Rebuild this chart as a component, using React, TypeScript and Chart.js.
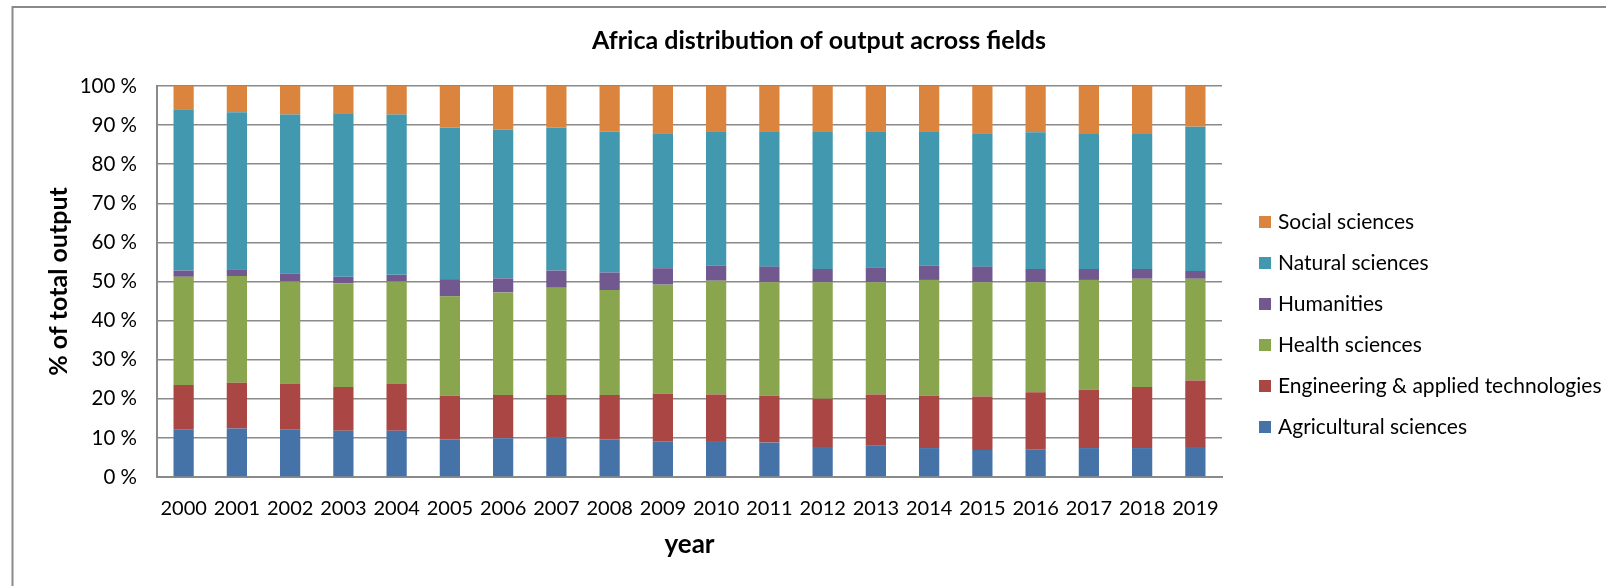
import React, { useEffect, useRef } from "react";
import { Chart, registerables } from "chart.js";

Chart.register(...registerables);

const years = ["2000", "2001", "2002", "2003", "2004", "2005", "2006", "2007", "2008", "2009", "2010", "2011", "2012", "2013", "2014", "2015", "2016", "2017", "2018", "2019"];

const agricultural = [12.2, 12.4, 12.2, 11.8, 11.8, 9.6, 9.9, 10.2, 9.6, 9.1, 9.2, 8.8, 7.7, 8.0, 7.4, 6.9, 7.1, 7.4, 7.4, 7.7];
const engineering = [11.3, 11.7, 11.7, 11.2, 12.1, 11.2, 11.1, 10.8, 11.4, 12.2, 11.9, 12.0, 12.3, 13.1, 13.4, 13.7, 14.6, 14.9, 15.6, 17.0];
const health = [27.7, 27.3, 26.1, 26.5, 26.1, 25.4, 26.2, 27.4, 26.8, 27.9, 29.1, 29.0, 29.8, 28.7, 29.6, 29.2, 28.1, 28.1, 27.7, 26.0];
const humanities = [1.6, 1.7, 2.0, 1.7, 1.7, 4.4, 3.6, 4.4, 4.5, 4.2, 3.9, 4.0, 3.4, 3.8, 3.7, 4.0, 3.4, 2.8, 2.5, 2.0];
const natural = [41.1, 40.2, 40.7, 41.8, 41.0, 38.8, 38.0, 36.6, 36.0, 34.5, 34.3, 34.6, 35.2, 34.8, 34.3, 34.1, 35.0, 34.5, 34.5, 36.9];
const social = [6.1, 6.7, 7.3, 7.0, 7.3, 10.6, 11.2, 10.6, 11.7, 12.1, 11.6, 11.6, 11.6, 11.6, 11.6, 12.1, 11.8, 12.3, 12.3, 10.4];

const seriesLabels = ["Agricultural sciences", "Engineering & applied technologies", "Health sciences", "Humanities", "Natural sciences", "Social sciences"];
const seriesColors = ["#4572A7", "#AA4643", "#89A54E", "#71588F", "#4198AF", "#DB843D"];

const yTicks = [0, 10, 20, 30, 40, 50, 60, 70, 80, 90, 100];

const chartTitle = "Africa distribution of output across fields";
const yTitle = "% of total output";
const xTitle = "year";

const FONT = "Lato, 'Open Sans', sans-serif";
const GRID = "#8a8a8a";

const overlay = {
  id: "overlay",
  afterDraw(chart: any) {
    const ctx = chart.ctx;
    ctx.save();
    // outer chart border (top and left visible)
    ctx.strokeStyle = GRID;
    ctx.lineWidth = 2;
    ctx.beginPath();
    ctx.moveTo(12.5, 600);
    ctx.lineTo(12.5, 7);
    ctx.lineTo(1620, 7);
    ctx.stroke();

    // title
    ctx.fillStyle = "#000";
    ctx.font = `bold 25px ${FONT}`;
    ctx.textAlign = "center";
    ctx.textBaseline = "middle";
    ctx.fillText(chartTitle, 819, 41);

    // legend (reversed order)
    ctx.font = `21px ${FONT}`;
    ctx.textAlign = "left";
    const ds = chart.data.datasets;
    let row = 0;
    for (let i = ds.length - 1; i >= 0; i--) {
      const y = 222 + row * 41;
      ctx.fillStyle = ds[i].backgroundColor;
      ctx.fillRect(1259, y - 6, 12, 12);
      ctx.fillStyle = "#000";
      ctx.fillText(ds[i].label, 1278, y);
      row++;
    }
    ctx.restore();
  },
};

export default function App() {
  const ref = useRef<HTMLCanvasElement | null>(null);

  useEffect(() => {
    if (!ref.current) return;
    const series = [agricultural, engineering, health, humanities, natural, social];
    const chart = new Chart(ref.current, {
      type: "bar",
      data: {
        labels: years,
        datasets: series.map((data, i) => ({
          label: seriesLabels[i],
          data,
          backgroundColor: seriesColors[i],
          borderWidth: 0,
          barPercentage: 0.38,
          categoryPercentage: 1,
        })),
      },
      options: {
        responsive: false,
        animation: false,
        devicePixelRatio: 1,
        layout: { padding: { left: 12, right: 384, top: 86, bottom: 0 } },
        plugins: {
          legend: { display: false },
          title: { display: false },
          tooltip: { enabled: false },
        },
        scales: {
          x: {
            stacked: true,
            grid: { display: false, drawTicks: false },
            border: { display: true, color: GRID, width: 2 },
            ticks: { color: "#000", font: { family: FONT, size: 20 }, padding: 20, maxRotation: 0, autoSkip: false },
            title: { display: true, text: xTitle, color: "#000", font: { family: FONT, size: 26, weight: "bold" }, padding: { top: 0, bottom: 26 } },
            afterFit: (s: any) => { s.height = 109; },
          },
          y: {
            stacked: true,
            min: 0,
            max: 100,
            afterBuildTicks: (s: any) => { s.ticks = yTicks.map((v) => ({ value: v })); },
            grid: { color: GRID, lineWidth: 1.5, drawTicks: false },
            border: { display: true, color: GRID, width: 2 },
            ticks: { color: "#000", font: { family: FONT, size: 20.5 }, padding: 20, callback: (v: any) => `${v} %` },
            title: { display: true, text: yTitle, color: "#000", font: { family: FONT, size: 25, weight: "bold" }, padding: { top: 32, bottom: 0 } },
            afterFit: (s: any) => { s.width = 145; },
          },
        },
      },
      plugins: [overlay],
    });
    return () => chart.destroy();
  }, []);

  return (
    <div style={{ position: "fixed", left: 0, top: 0, width: 1606, height: 586, background: "#fff" }}>
      <canvas ref={ref} width={1606} height={586} style={{ display: "block" }} />
    </div>
  );
}
